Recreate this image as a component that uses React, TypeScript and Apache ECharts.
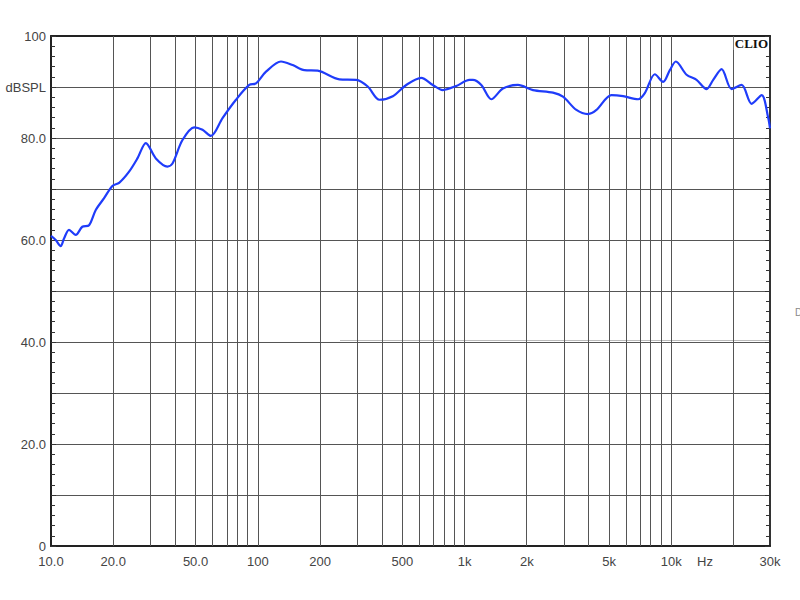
import React, { useEffect, useRef } from "react";
import * as echarts from "echarts";

// Frequency (Hz) and level (dB SPL)
const freqs = [
  10, 10.54, 11.14, 11.56, 12.22, 13.17, 14.17, 15.28, 16.46, 18.06, 19.81, 21.35,
  23.86, 26.18, 28.75, 32.14, 36.58, 38.68, 43.23, 49.27, 54.04, 59.34, 67.53, 78.43,
  90.95, 98.0, 109.6, 129.5, 147.4, 168.0, 194.8, 248.1, 298.9, 340.2, 387.7, 449.7,
  522.2, 617.1, 702.3, 785.0, 911.9, 1057, 1097, 1205, 1347, 1533, 1812, 2142, 2677,
  2992, 3474, 3956, 4344, 5133, 5844, 6907, 7442, 8321, 9128, 9833, 10515, 11848,
  13243, 14811, 15937, 17506, 19563, 21878, 24450, 27345, 29433, 30000,
];
const levels = [
  60.8, 60.0, 58.8, 60.3, 62.0, 61.0, 62.6, 62.9, 65.9, 68.2, 70.6, 71.2,
  73.4, 76.0, 79.0, 76.0, 74.4, 75.0, 79.6, 82.1, 81.6, 80.4, 83.9, 87.5,
  90.4, 90.7, 93.0, 95.0, 94.3, 93.3, 93.2, 91.5, 91.4, 90.1, 87.5, 88.2,
  90.4, 91.8, 90.4, 89.4, 90.2, 91.4, 91.4, 90.4, 87.6, 89.7, 90.4, 89.4, 88.9,
  88.1, 85.5, 84.7, 85.5, 88.4, 88.2, 87.6, 88.8, 92.5, 91.0, 93.3, 95.0, 92.4,
  91.4, 89.6, 91.4, 93.5, 89.6, 90.4, 86.7, 88.4, 83.9, 81.9,
];

const gridFreqs = [
  20, 30, 40, 50, 60, 70, 80, 90, 100, 200, 300, 400, 500, 600, 700, 800, 900,
  1000, 2000, 3000, 4000, 5000, 6000, 7000, 8000, 9000, 10000, 20000,
];
const xLabelFreqs = [10, 20, 50, 100, 200, 500, 1000, 2000, 5000, 10000, 30000];
const xLabelTexts = ["10.0", "20.0", "50.0", "100", "200", "500", "1k", "2k", "5k", "10k", "30k"];
const yLabelMap: Record<number, string> = {
  100: "100",
  90: "dBSPL",
  80: "80.0",
  60: "60.0",
  40: "40.0",
  20: "20.0",
  0: "0",
};

const FONT = '"Liberation Sans", Arial, sans-serif';

export default function App() {
  const ref = useRef<HTMLDivElement>(null);
  useEffect(() => {
    if (!ref.current) return;
    const chart = echarts.init(ref.current, null, { renderer: "svg" });
    const data = freqs.map((f, i) => [Math.log10(f), levels[i]]);
    const xMin = 1;
    const xMax = Math.log10(30000);
    const labelFor = (v: number) => {
      let best = -1;
      let bd = 1e9;
      xLabelFreqs.forEach((f, i) => {
        const d = Math.abs(Math.log10(f) - v);
        if (d < bd) {
          bd = d;
          best = i;
        }
      });
      return bd < 0.01 ? xLabelTexts[best] : "";
    };
    chart.setOption({
      animation: false,
      grid: { left: 51, right: 30, top: 36, bottom: 54, containLabel: false },
      xAxis: [
        {
          type: "value",
          min: xMin,
          max: xMax,
          position: "bottom",
          axisLine: { show: true, onZero: false, lineStyle: { color: "#222", width: 2 } },
          axisTick: { show: false },
          splitLine: { show: false },
          axisLabel: {
            customValues: xLabelFreqs.map((f) => Math.log10(f)),
            formatter: (v: number) => labelFor(v),
            color: "#444",
            fontSize: 13,
            fontFamily: FONT,
            margin: 9,
            showMinLabel: true,
            showMaxLabel: true,
          },
        },
        {
          type: "value",
          min: xMin,
          max: xMax,
          position: "top",
          axisLine: { show: true, onZero: false, lineStyle: { color: "#222", width: 2 } },
          axisTick: { show: false },
          axisLabel: { show: false },
          splitLine: { show: false },
        },
      ],
      yAxis: [
        {
          type: "value",
          min: 0,
          max: 100,
          interval: 10,
          position: "left",
          axisLine: { show: true, onZero: false, lineStyle: { color: "#222", width: 2 } },
          axisTick: { show: true, inside: true, length: 5, lineStyle: { color: "#333" } },
          minorTick: { show: true, splitNumber: 5, length: 4, lineStyle: { color: "#333" } },
          splitLine: { show: true, lineStyle: { color: "#555", width: 1 } },
          axisLabel: {
            formatter: (v: number) => yLabelMap[v] ?? "",
            color: "#444",
            fontSize: 13,
            fontFamily: FONT,
            margin: 5,
          },
        },
        {
          type: "value",
          min: 0,
          max: 100,
          interval: 10,
          position: "right",
          axisLine: { show: true, onZero: false, lineStyle: { color: "#333", width: 2 } },
          axisTick: { show: true, inside: true, length: 5, lineStyle: { color: "#333" } },
          minorTick: { show: true, splitNumber: 5, length: 4, lineStyle: { color: "#333" } },
          splitLine: { show: false },
          axisLabel: { show: false },
        },
      ],
      series: [
        {
          type: "line",
          name: "grid",
          data: data,
          symbol: "none",
          silent: true,
          z: 1,
          lineStyle: { width: 0, opacity: 0 },
          markLine: {
            silent: true,
            symbol: ["none", "none"],
            label: { show: false },
            lineStyle: { color: "#555", width: 1, type: "solid" },
            emphasis: { disabled: true },
            data: gridFreqs.map((f) => ({ xAxis: Math.log10(f) })),
          },
        },
        {
          type: "line",
          name: "SPL",
          data: data,
          symbol: "none",
          smooth: 0.3,
          z: 5,
          lineStyle: { color: "#1f3cfa", width: 2.2 },
        },
      ],
      graphic: [
        {
          type: "text",
          right: 31,
          top: 37,
          z: 100,
          style: {
            text: "CLIO",
            font: 'bold 13px "Liberation Serif", "Times New Roman", serif',
            fill: "#111",
            backgroundColor: "#fff",
            padding: [0, 1, 0, 1],
          },
        },
        {
          type: "text",
          left: 697,
          top: 555,
          style: { text: "Hz", font: '13px "Liberation Sans", Arial, sans-serif', fill: "#444" },
        },
        {
          type: "text",
          left: 795,
          top: 307,
          style: { text: "D", font: '10px "Liberation Sans", Arial, sans-serif', fill: "#888" },
        },
        {
          type: "line",
          shape: { x1: 340, y1: 340.5, x2: 770, y2: 340.5 },
          style: { stroke: "#bbb", lineWidth: 1 },
          z: 0,
        },
      ],
    });
    return () => chart.dispose();
  }, []);
  return (
    <div
      ref={ref}
      style={{ position: "fixed", left: 0, top: 0, width: 800, height: 600, background: "#fff" }}
    />
  );
}
